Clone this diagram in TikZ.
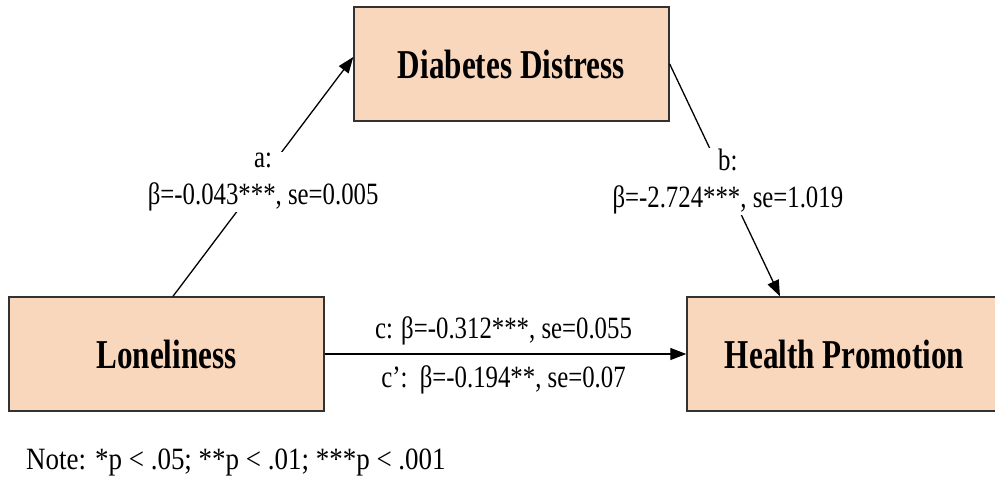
\documentclass[tikz,border=0pt]{standalone}
\usepackage{fontspec}
\setmainfont{Liberation Serif}
\newfontfamily\boxfont{Liberation Serif}[FakeStretch=0.76]
\newfontfamily\lblfont{Liberation Serif}[FakeStretch=0.8]
\newfontfamily\notefont{Liberation Serif}[FakeStretch=0.87]
\usetikzlibrary{arrows.meta}
\definecolor{peach}{RGB}{249,215,189}
\definecolor{edge}{RGB}{50,50,50}
\tikzset{
  varbox/.style={draw=edge, line width=1.4pt, fill=peach, minimum width=315pt, minimum height=114pt, inner sep=0pt,
    font=\boxfont\bfseries\fontsize{41}{46}\selectfont},
  path/.style={line width=1.3pt, black, -{Triangle[length=16pt,width=12pt]}},
  lbl/.style={font=\lblfont\fontsize{31}{37}\selectfont, align=center, inner sep=1pt},
  lblfill/.style={lbl, fill=white},
}
\begin{document}
\begin{tikzpicture}[x=1pt,y=-1pt]
\useasboundingbox (0,0) rectangle (995,480);
\node[varbox] (dd) at (511.5,64) {Diabetes Distress};
\node[varbox] (lon) at (166.5,354) {Loneliness};
\node[varbox] (hp) at (844.5,354) {Health Promotion};
\draw[path] ([xshift=6.5pt]lon.north) -- ([yshift=7pt]dd.west) node[lblfill, pos=0.5, yshift=-5pt] {a:\\β=-0.043***, se=0.005};
\draw[path] (dd.east) -- ([xshift=-64.5pt]hp.north) node[lblfill, pos=0.5, xshift=3pt, yshift=-1pt] {b:\\β=-2.724***, se=1.019};
\draw[path] (lon.east) -- (hp.west)
  node[lbl, pos=0.5, above=7pt, xshift=-2pt] {c: β=-0.312***, se=0.055}
  node[lbl, pos=0.5, below=10pt, xshift=-2pt] {c’:\ \ β=-0.194**, se=0.07};
\node[anchor=west, font=\notefont\fontsize{31}{36}\selectfont, inner sep=0pt] (note) at (26,462) {Note: *p < .05; **p < .01; ***p < .001};
\end{tikzpicture}
\end{document}
